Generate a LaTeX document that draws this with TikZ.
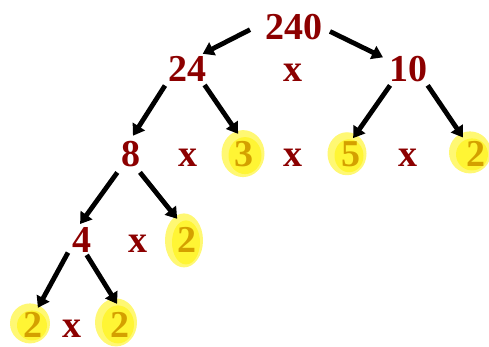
\documentclass[tikz,border=0pt]{standalone}
\usepackage{fontspec}
\setmainfont{Liberation Serif}
\usetikzlibrary{arrows.meta, backgrounds}

\definecolor{darkred}{RGB}{140,0,0}
\definecolor{gold}{RGB}{212,160,0}

\tikzset{
    num/.style={anchor=base, inner sep=0pt, outer sep=0pt, text=darkred,
        font=\bfseries\fontsize{38}{40}\selectfont},
    hlnum/.style={num, text=gold},
    arr/.style={line width=4.8pt, -{Triangle[length=11pt, width=14pt]}},
    hl/.style={fill=yellow, fill opacity=0.55}
}

\begin{document}
\begin{tikzpicture}[x=1pt, y=-1pt]
    \useasboundingbox (0,0) rectangle (489,347);

    \node [num] (n240) at (293.5,40) {240};

    \node [num] (n24) at (187,82) {24};
    \node [num] (x1)  at (293,82) {x};
    \node [num] (n10) at (408,82) {10};

    \node [num]   (n8)  at (130.5,167) {8};
    \node [num]   (x2)  at (188,167)   {x};
    \node [hlnum] (n3)  at (244,167)   {3};
    \node [num]   (x3)  at (293,167)   {x};
    \node [hlnum] (n5)  at (351,167)   {5};
    \node [num]   (x4)  at (408,167)   {x};
    \node [hlnum] (n2a) at (476,167)   {2};

    \node [num]   (n4)  at (82,252)  {4};
    \node [num]   (x5)  at (138,252) {x};
    \node [hlnum] (n2b) at (187,252) {2};

    \node [hlnum] (n2c) at (33,337)  {2};
    \node [num]   (x6)  at (72,337)  {x};
    \node [hlnum] (n2d) at (120,337) {2};

    % marker blobs behind the primes
    \begin{scope}[on background layer]
        \foreach \n/\dx/\dy/\rx/\ry in {n3/-1/-1/21.5/23.5, n5/-4/-1/19.5/21.5,
                n2a/-6/-2/21/21, n2b/-3/1/19/27, n2c/-3/-1/20/20, n2d/-4/-2/21/24} {
            \fill [hl] ([shift={(\dx,\dy)}]\n.center) ellipse ({\rx} and {\ry});
            \fill [hl] ([shift={(\dx+2,\dy+2)}]\n.center) ellipse ({\rx-5} and {\ry-5});
        }
    \end{scope}

    % Now draw the arrows:
    \draw [arr, shorten <=16.8pt, shorten >=6.6pt] (n240.169) -- (n24.52);
    \draw [arr, shorten <=8.9pt,  shorten >=6.7pt] (n240.east) -- (n10.154);
    \draw [arr, shorten <=5.6pt,  shorten >=7.1pt] (n24.211) -- (n8.96);
    \draw [arr, shorten <=3.6pt,  shorten >=9.7pt] (n24.321) -- (n3.92);
    \draw [arr, shorten <=3.7pt,  shorten >=4.9pt] (n10.219) -- (n5.93);
    \draw [arr, shorten <=3.6pt,  shorten >=6.3pt] (n10.324) -- (n2a.129);
    \draw [arr, shorten <=6.3pt,  shorten >=3.7pt] (n8.south west) -- (n4.108);
    \draw [arr, shorten <=6.4pt,  shorten >=10.3pt] (n8.293) -- (n2b.105);
    \draw [arr, shorten <=9.4pt,  shorten >=4.6pt] (n4.207) -- (n2c.78);
    \draw [arr, shorten <=3.5pt,  shorten >=9.4pt] (n4.283) -- (n2d.81);
\end{tikzpicture}
\end{document}
